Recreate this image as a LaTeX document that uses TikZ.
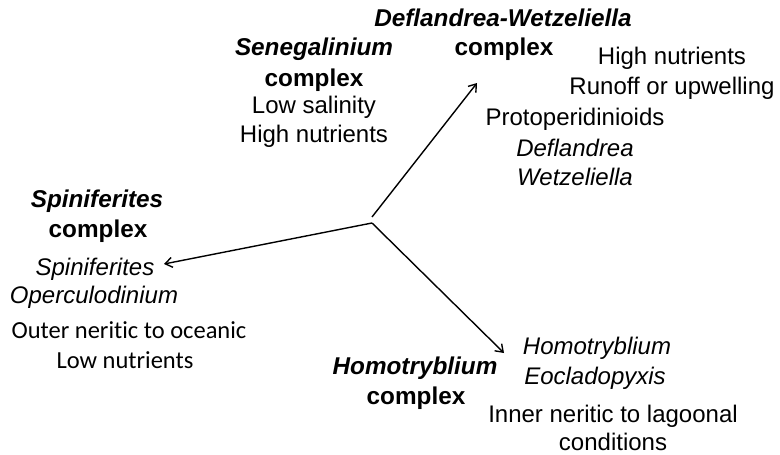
\documentclass[tikz,border=0pt]{standalone}
\usepackage{fontspec}
\setmainfont{Liberation Sans}
\newfontfamily\carlitofont[Ligatures={NoCommon}]{Carlito}
\usetikzlibrary{arrows.meta}
\begin{document}
\begin{tikzpicture}[x=1pt,y=-1pt,
  txt/.style={anchor=base, inner sep=0pt, font=\fontsize{24}{28}\selectfont},
  head/.style={txt, font=\fontsize{24.3}{28}\selectfont\bfseries\itshape},
  cplx/.style={txt, font=\fontsize{24.3}{28}\selectfont\bfseries},
  taxon/.style={txt, font=\fontsize{24}{28}\selectfont\itshape},
  note/.style={txt, font=\fontsize{24.5}{28}\selectfont\carlitofont},
  link/.style={line width=1.4pt, -{Straight Barb[length=7pt,width=10pt,line width=1.4pt]}}]
\useasboundingbox[fill=white] (0,0) rectangle (780,455);

% Senegalinium complex
\node[head] (sen)  at (314,55)  {Senegalinium};
\node[cplx] (senc) at (314,86)  {complex};
\node[txt]  (sen1) at (314,113) {Low salinity};
\node[txt]  (sen2) at (314,142) {High nutrients};

% Deflandrea-Wetzeliella complex
\node[head] (dw)   at (503,26)  {Deflandrea-Wetzeliella};
\node[cplx] (dwc)  at (504,55)  {complex};
\node[txt]  (dw1)  at (672,64)  {High nutrients};
\node[txt]  (dw2)  at (672,94)  {Runoff or upwelling};
\node[txt]  (dw3)  at (575,125) {Protoperidinioids};
\node[taxon](dw4)  at (575,156) {Deflandrea};
\node[taxon](dw5)  at (575,185) {Wetzeliella};

% Spiniferites complex
\node[head] (spi)  at (97,207)  {Spiniferites};
\node[cplx] (spic) at (98,237)  {complex};
\node[taxon](spi1) at (95,275)  {Spiniferites};
\node[taxon](spi2) at (94,303)  {Operculodinium};
\node[note] (spi3) at (129,338) {Outer neritic to oceanic};
\node[note] (spi4) at (125,368) {Low nutrients};

% Homotryblium complex
\node[head] (hom)  at (415,374) {Homotryblium};
\node[cplx] (homc) at (416,404) {complex};
\node[taxon](hom1) at (597,354) {Homotryblium};
\node[taxon](hom2) at (595,384) {Eocladopyxis};
\node[txt]  (hom3) at (613,422) {Inner neritic to lagoonal};
\node[txt]  (hom4) at (613,450) {conditions};

% arrows radiating from the centre
\coordinate (hub)   at (372,223);
\coordinate (hubNE) at (372,217);
\coordinate (tipNE) at (477,83);
\coordinate (tipW)  at (164,264);
\coordinate (tipSE) at (504,353);
\draw[link] (hubNE) -- (tipNE);
\draw[link] (hub) -- (tipW);
\draw[link] (hub) -- (tipSE);
\end{tikzpicture}
\end{document}
